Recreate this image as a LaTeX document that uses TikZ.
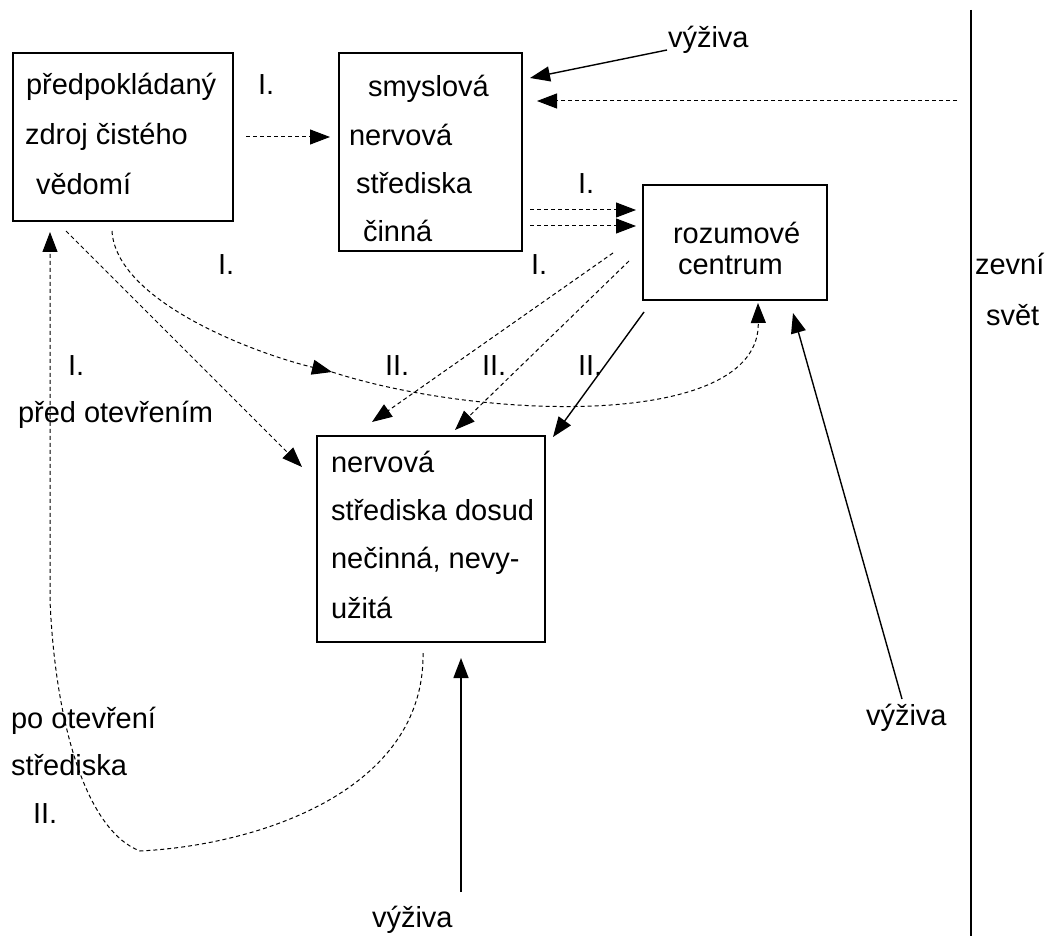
\documentclass[tikz,border=0pt]{standalone}
\usepackage{fontspec}
\setmainfont{Liberation Sans}
\usetikzlibrary{arrows.meta,calc}
\begin{document}
\begin{tikzpicture}[x=1pt,y=-1pt,
  box/.style={draw,line width=1.6pt,inner sep=0pt,outer sep=0pt},
  thickbox/.style={box,line width=2.6pt},
  lbl/.style={anchor=base west,inner sep=0pt,outer sep=0pt,font=\fontsize{29}{34}\selectfont},
  tiphead/.style={-{Triangle[length=20pt 0 0,width=15pt 0 0]}},
  solidarrow/.style={tiphead,line width=1.4pt},
  dashedarrow/.style={tiphead,line width=1pt,dash pattern=on 4pt off 3pt},
]
\useasboundingbox (0,0) rectangle (1050,936);

% boxes
\node[box,minimum width=220pt,minimum height=168pt] (A) at (123,137) {};
\node[box,minimum width=183pt,minimum height=198pt] (B) at (430.5,152) {};
\node[box,minimum width=184pt,minimum height=115pt] (C) at (735,242.5) {};
\node[thickbox,minimum width=228pt,minimum height=206pt] (D) at (431,539) {};

% box texts
\node[lbl] (a1) at (26,95) {předpokládaný};
\node[lbl] (a2) at (25,145) {zdroj čistého};
\node[lbl] (a3) at (36,195) {vědomí};

\node[lbl] (b1) at (368,97) {smyslová};
\node[lbl] (b2) at (349,146) {nervová};
\node[lbl] (b3) at (356,194) {střediska};
\node[lbl] (b4) at (363,242) {činná};

\node[lbl] (c1) at (673,244) {rozumové};
\node[lbl] (c2) at (678,275) {centrum};

\node[lbl] (d1) at (331,472) {nervová};
\node[lbl] (d2) at (331,520) {střediska dosud};
\node[lbl] (d3) at (331,568) {nečinná, nevy-};
\node[lbl] (d4) at (331,618) {užitá};

% free labels
\node[lbl] (l1) at (258,95) {I.};
\node[lbl] (l2) at (578,194) {I.};
\node[lbl] (l3) at (218,275) {I.};
\node[lbl] (l4) at (531,275) {I.};
\node[lbl] (l5) at (68,375) {I.};
\node[lbl] (l6) at (385,375) {II.};
\node[lbl] (l7) at (482,375) {II.};
\node[lbl] (l8) at (578,375) {II.};
\node[lbl] (l9) at (18,422) {před otevřením};
\node[lbl] (l10) at (11,728) {po otevření};
\node[lbl] (l11) at (11,775) {střediska};
\node[lbl] (l12) at (33,823) {II.};
\node[lbl] (z1) at (975,275) {zevní};
\node[lbl] (z2) at (986,325) {svět};
\node[lbl] (v1) at (668,48) {výživa};
\node[lbl] (v2) at (866,725) {výživa};
\node[lbl] (v3) at (372,927) {výživa};

% boundary of the outer world
\coordinate (w1) at (971,10);
\coordinate (w2) at (971,936);
\draw[line width=2.2pt] (w1) -- (w2);

% A -> B
\draw[dashedarrow] ($(A.east)+(13,0)$) -- ($(B.west)+(-9,-15)$);
% nutrition and outer world -> B
\draw[solidarrow] ($(v1.base west)+(-1,2)$) -- ($(B.east)+(8,-74)$);
\draw[dashedarrow] ($(w1)+(-14,91)$) -- ($(B.east)+(15,-51)$);
% B -> C (double)
\draw[dashedarrow] ($(B.east)+(8,58)$) -- ($(C.west)+(-7,-32.5)$);
\draw[dashedarrow] ($(B.east)+(8,74)$) -- ($(C.west)+(-7,-16.5)$);
% C -> D
\draw[dashedarrow] ($(C.west)+(-30,10.5)$) -- ($(D.north)+(-59,-14)$);
\draw[dashedarrow] ($(C.west)+(-14,18.5)$) -- ($(D.north)+(24,-6)$);
\draw[solidarrow] ($(C.south west)+(1,12)$) -- ($(D.north east)+(8,1)$);
% A -> D
\draw[dashedarrow] ($(A.south west)+(53,10)$) -- ($(D.west)+(-15,-72)$);
% A -> C, curved, with an arrow midway
\coordinate (m1) at (332,372);
\draw[dashedarrow] ($(A.south)+(-11,10)$) .. controls (116,300) and (250,352) .. (m1);
\draw[dashedarrow] (m1) .. controls (480,420) and (760,430) .. ($(C.south)+(23,3)$);
% nutrition -> C and D
\draw[solidarrow] ($(v2.base west)+(36,-26)$) -- ($(C.south east)+(-34,13)$);
\draw[solidarrow] ($(D.south)+(30,250)$) -- ($(D.south)+(30,16)$);
% D -> A after opening
\draw[dashedarrow] ($(D.south)+(-8,11)$) .. controls (425,790) and (260,845) .. (140,851)
  .. controls (85,830) and (55,720) .. (50,600) -- ($(A.south west)+(37,11)$);
\end{tikzpicture}
\end{document}
